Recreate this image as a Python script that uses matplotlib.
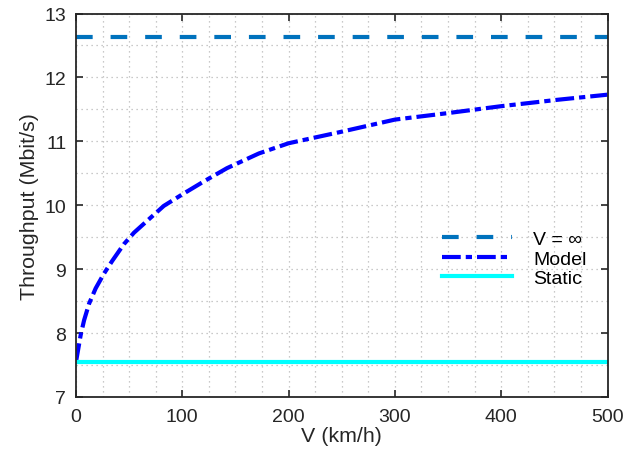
import numpy as np
import matplotlib.pyplot as plt
from matplotlib.ticker import MultipleLocator

plt.rcParams['font.family'] = ['Liberation Sans', 'DejaVu Sans']

# values
speed = [0, 4.4, 7.6, 12.3, 18.5, 26.3, 34.1, 45, 54.5, 68.5, 82.6, 100,
         120, 142, 172, 200, 247, 300, 349, 400, 453, 500]
model = [7.55, 7.97, 8.20, 8.46, 8.70, 8.93, 9.13, 9.39, 9.57, 9.78, 9.99, 10.17,
         10.37, 10.58, 10.81, 10.97, 11.14, 11.34, 11.44, 11.55, 11.65, 11.73]
v_inf = 12.63
static = 7.54
x_range = [0, 500]

fig = plt.figure(figsize=(6.24, 4.56), dpi=100)
ax = fig.add_axes([76/624, 1 - 398/456, (607.5-76)/624, (398-14.5)/456])

ax.plot(x_range, [v_inf, v_inf], color=(0, 0.447, 0.741), lw=3, ls=(0, (4, 4.3)), label='V = ∞')
ax.plot(speed, model, color='#0000ff', lw=3, ls=(0, (4.5, 1.2, 1.5, 1.2)), label='Model')
ax.plot(x_range, [static, static], color='cyan', lw=3, label='Static')

ax.set_xlim(0, 500)
ax.set_ylim(7, 13)
ax.xaxis.set_major_locator(MultipleLocator(100))
ax.yaxis.set_major_locator(MultipleLocator(1))
ax.xaxis.set_minor_locator(MultipleLocator(25))
ax.yaxis.set_minor_locator(MultipleLocator(0.5))
ax.grid(which='both', color='#b8b8b8', ls=(0, (1, 3)), lw=0.9)
ax.set_axisbelow(True)
ax.tick_params(which='major', direction='in', top=True, right=True, length=5, width=1.2,
               labelsize=14, colors='#262626')
ax.tick_params(axis='x', pad=8)
ax.tick_params(axis='y', pad=7)
ax.tick_params(which='minor', length=0)
for s in ax.spines.values():
    s.set_linewidth(1.3)
    s.set_color('#262626')

ax.set_xlabel('V (km/h)', fontsize=15.4, color='#262626', labelpad=1)
ax.set_ylabel('Throughput (Mbit/s)', fontsize=15.4, color='#262626', labelpad=4)

ax.legend(loc='center left', bbox_to_anchor=(0.655, 0.36), frameon=False, fontsize=14,
          handlelength=3.6, handletextpad=1.1, labelspacing=0.1)

fig.savefig('out.png', dpi=100)
